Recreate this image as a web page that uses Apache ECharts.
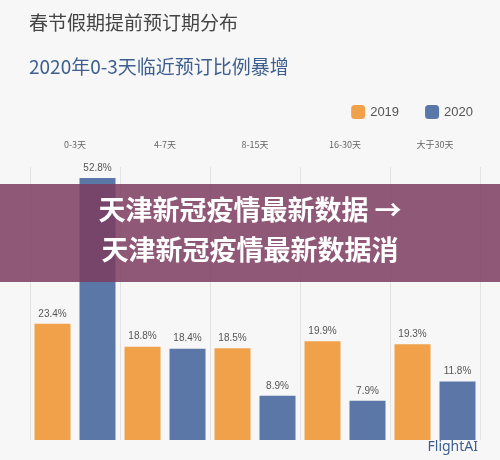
<!DOCTYPE html><html><head><meta charset="utf-8"><script src="https://cdn.jsdelivr.net/npm/echarts@6/dist/echarts.min.js"></script>
<style>body{margin:0;background:#fff}#c{width:500px;height:460px}</style></head><body><div id="c"></div><script>
const categories=['0-3天','4-7天','8-15天','16-30天','大于30天'];
const s2019=[23.4,18.8,18.5,19.9,19.3];
const s2020=[52.8,18.4,8.9,7.9,11.8];
const F='"Noto Sans CJK SC"';
const c=echarts.init(document.getElementById('c'));
c.setOption({backgroundColor:'#f7f7f7',animation:false,
title:[{text:'春节假期提前预订期分布',left:24,top:8,textStyle:{fontFamily:F,fontSize:19,fontWeight:'normal',color:'#444'}},
{text:'2020年0-3天临近预订比例暴增',left:24,top:52,textStyle:{fontFamily:F,fontSize:19,fontWeight:'normal',color:'#3d5f8f'}}],
legend:{right:22,top:100,itemWidth:14,itemHeight:14,itemGap:26,textStyle:{fontSize:13,color:'#555'},data:['2019','2020']},
grid:{left:30,right:20,top:167,bottom:20},
xAxis:{type:'category',position:'top',data:categories,axisLine:{show:false},axisTick:{show:false},axisLabel:{fontFamily:F,fontSize:9,color:'#666',margin:18},splitLine:{show:true,lineStyle:{color:'#e2e2e2'}}},
yAxis:{type:'value',min:0,max:55,show:false},
series:[{name:'2019',type:'bar',data:s2019,barWidth:36,barGap:'25%',itemStyle:{color:'#f0a14a'},label:{show:true,position:'top',formatter:'{c}%',fontSize:10,color:'#555'}},
{name:'2020',type:'bar',data:s2020,barWidth:36,itemStyle:{color:'#5b77a8'},label:{show:true,position:'top',formatter:'{c}%',fontSize:10,color:'#555'}}],
graphic:[{type:'rect',shape:{x:0,y:184,width:500,height:98},style:{fill:'rgba(125,60,95,0.85)'},z:100},
{type:'text',left:'center',top:196,style:{text:'天津新冠疫情最新数据 →',fill:'#fff',font:'bold 27px "Noto Sans CJK SC"'},z:101},
{type:'text',left:'center',top:236,style:{text:'天津新冠疫情最新数据消',fill:'#fff',font:'bold 27px "Noto Sans CJK SC"'},z:101},
{type:'text',right:22,bottom:6,style:{text:'FlightAI',fill:'#3d5f8f',font:'14px "Noto Sans"'},z:101}]
});
</script></body></html>
